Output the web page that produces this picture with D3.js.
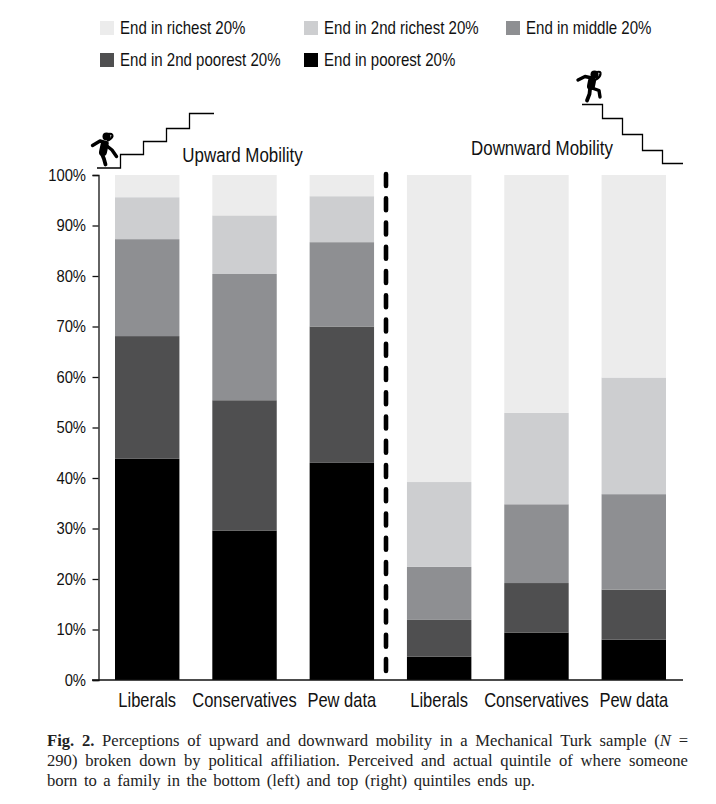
<!DOCTYPE html>
<html><head><meta charset="utf-8">
<script src="https://cdn.jsdelivr.net/npm/d3@7"></script>
<style>
html,body{margin:0;padding:0;background:#fff}
svg{display:block}
.n{font-family:"Liberation Sans",sans-serif;fill:#111}
.c{font-family:"Liberation Serif",serif;fill:#222;font-size:16.6px}
</style></head><body><svg id="c" width="716" height="804"></svg>
<script>
const groups = ["Liberals","Conservatives","Pew data","Liberals","Conservatives","Pew data"];
const legendLabels = ["End in richest 20%","End in 2nd richest 20%","End in middle 20%","End in 2nd poorest 20%","End in poorest 20%"];
const colors = ["#ececec","#cdced0","#8e8f92","#4f4f50","#000000"];
const poorest =   [43.8,29.6,43.0, 4.6, 9.4, 8.0];
const poorer2 =   [24.3,25.8,27.0, 7.3, 9.8, 9.9];
const middle =    [19.2,25.0,16.7,10.5,15.6,18.9];
const richer2 =   [ 8.3,11.6, 9.1,16.8,18.1,23.1];
const richest =   [ 4.4, 8.0, 4.2,60.8,47.1,40.1];
const yTicks = [0,10,20,30,40,50,60,70,80,90,100];

// Arial-Narrow look: condense Liberation Sans horizontally about each text's own anchor
function narrow(sel, k){
  sel.attr("transform",function(){
    const x0 = +this.getAttribute("x")||0;
    return `translate(${x0*(1-k)},0) scale(${k},1)`;
  });
}
const svg = d3.select("#c");
const x = d3.scaleBand().domain(d3.range(6)).range([115,666]).paddingInner(0.338).paddingOuter(0);
const y = d3.scaleLinear().domain([0,100]).range([680,175]);
const rows = d3.range(6).map(i=>({i,poorest:poorest[i],poorer2:poorer2[i],middle:middle[i],richer2:richer2[i],richest:richest[i]}));
const keys = ["poorest","poorer2","middle","richer2","richest"];
const fill = d3.scaleOrdinal().domain(keys).range(colors.slice().reverse());
svg.append("g").selectAll("g").data(d3.stack().keys(keys)(rows)).join("g").attr("fill",d=>fill(d.key))
  .selectAll("rect").data(d=>d).join("rect")
  .attr("x",d=>x(d.data.i)).attr("width",x.bandwidth())
  .attr("y",d=>y(d[1])).attr("height",d=>y(d[0])-y(d[1]));

// axes
const ya = svg.append("g").attr("transform","translate(98.5,0)")
  .call(d3.axisLeft(y).tickValues(yTicks).tickFormat(d=>d+"%").tickSize(6).tickPadding(6.5));
ya.select(".domain").attr("stroke","#111").attr("stroke-width",1.3);
ya.selectAll("line").attr("stroke","#111").attr("stroke-width",1.3);
ya.selectAll("text").attr("class","n").style("font-size","17px").attr("fill","#111").call(narrow,0.87);
svg.append("line").attr("x1",92).attr("x2",683).attr("y1",y(0)).attr("y2",y(0)).attr("stroke","#111").attr("stroke-width",1.3);

// category labels
svg.append("g").selectAll("text").data(groups).join("text").attr("class","n")
  .attr("x",(d,i)=>x(i)+x.bandwidth()/2).attr("y",707).attr("text-anchor","middle")
  .style("font-size","20px").text(d=>d).call(narrow,0.825);

// divider
svg.append("line").attr("x1",386).attr("x2",386).attr("y1",174).attr("y2",672)
  .attr("stroke","#000").attr("stroke-width",4.6).attr("stroke-linecap","round").attr("stroke-dasharray","12 12.25");

// legend
const legendPos = [[100,21],[304,21],[506,21],[100,53],[304,53]];
const lg = svg.append("g").selectAll("g").data(legendLabels).join("g")
  .attr("transform",(d,i)=>`translate(${legendPos[i][0]},${legendPos[i][1]})`);
lg.append("rect").attr("width",14).attr("height",14).attr("fill",(d,i)=>colors[i]);
lg.append("text").attr("class","n").attr("x",20).attr("y",13).style("font-size","17.5px").text(d=>d).call(narrow,0.86);

// titles
svg.append("text").attr("class","n").attr("x",242.5).attr("y",162).attr("text-anchor","middle").style("font-size","20px").text("Upward Mobility").call(narrow,0.846);
svg.append("text").attr("class","n").attr("x",542).attr("y",155).attr("text-anchor","middle").style("font-size","20px").text("Downward Mobility").call(narrow,0.846);

// stairs
const stair = d3.line();
svg.append("path").attr("fill","none").attr("stroke","#000").attr("stroke-width",1.3)
  .attr("d",stair([[97,168],[120.5,168],[120.5,154.5],[143.5,154.5],[143.5,141.5],[166.5,141.5],[166.5,128.5],[189.5,128.5],[189.5,113.5],[214,113.5]]));
svg.append("path").attr("fill","none").attr("stroke","#000").attr("stroke-width",1.3)
  .attr("d",stair([[582,104.5],[602.5,104.5],[602.5,118.5],[622.5,118.5],[622.5,134.5],[642.5,134.5],[642.5,150.5],[662.5,150.5],[662.5,163.5],[683,163.5]]));

// climbers
function person(g, parts){
  parts.forEach(p=>g.append("path").attr("d",p[0]).attr("fill","none").attr("stroke","#000")
    .attr("stroke-width",p[1]).attr("stroke-linecap","round").attr("stroke-linejoin","round"));
}
const up = svg.append("g");
up.append("circle").attr("cx",106.5).attr("cy",136.5).attr("r",4).attr("fill","#000");
person(up,[["M108 134 Q112.5 133 112.5 136 Q112 138.5 108 140.5",2.2],["M104.5 145 L103 152",8],["M92.5 145.5 L100 141 L107 143",3.4],["M107 146 L112 150 L116.5 156.5",3.4],["M102 154 L104 159 L105.5 164.5",3.8]]);
const down = svg.append("g");
down.append("circle").attr("cx",594.5).attr("cy",74.5).attr("r",4).attr("fill","#000");
person(down,[["M597 72 Q601 71 600.5 74 Q600 77.5 596 79.5",2.2],["M592 81 L591 86",8],["M578 80 L585 76.5 L592 78",3.4],["M592 88 L599 90.5 L600 97",3.4],["M590 89 L589.5 94 L587 100.5",3.8]]);

// caption: justified by word spacing
const capW = 641;
function justify(t, w){
  const n = (t.text().match(/ /g)||[]).length;
  t.style("word-spacing",((w-t.node().getComputedTextLength())/n)+"px");
}
const cap = svg.append("g");
const line1 = cap.append("text").attr("class","c").attr("x",47).attr("y",746);
line1.append("tspan").attr("font-weight","bold").text("Fig. 2.");
line1.append("tspan").text(" Perceptions of upward and downward mobility in a Mechanical Turk sample (");
line1.append("tspan").attr("font-style","italic").text("N");
line1.append("tspan").text(" =");
justify(line1,capW);
justify(cap.append("text").attr("class","c").attr("x",47).attr("y",766)
  .text("290) broken down by political affiliation. Perceived and actual quintile of where someone"),capW);
justify(cap.append("text").attr("class","c").attr("x",47).attr("y",786)
  .text("born to a family in the bottom (left) and top (right) quintiles ends up."),488);
</script></body></html>
